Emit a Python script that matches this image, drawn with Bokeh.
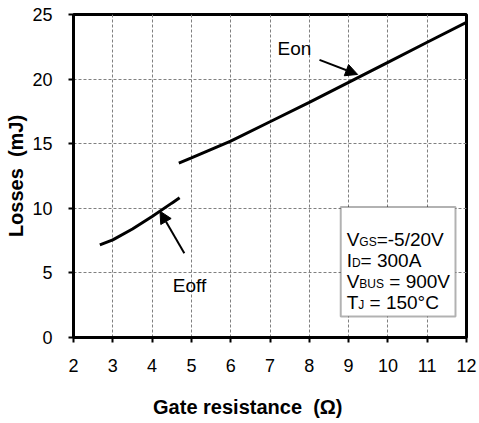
from bokeh.plotting import figure
from bokeh.models import Range1d, Label, Arrow, NormalHead, BoxAnnotation, FixedTicker
from bokeh.embed import file_html
from bokeh.resources import INLINE

# values
eon_x = [4.68, 5, 6, 7, 8, 9, 10, 11, 12]
eon_y = [13.5, 13.9, 15.2, 16.7, 18.2, 19.75, 21.3, 22.85, 24.4]
eoff_x = [2.67, 3, 3.5, 4, 4.5, 4.7]
eoff_y = [7.17, 7.56, 8.4, 9.37, 10.4, 10.81]
x_ticks = list(range(2, 13))
y_ticks = [0, 5, 10, 15, 20, 25]

NBSP = "\u00a0"
x_title = "Gate resistance" + NBSP + NBSP + "(Ω)"
y_title = "Losses" + NBSP + NBSP + "(mJ)"

# test conditions: (text, is_subscript, leading space)
cond_lines = [
    [("V", False, 0), ("GS", True, 0), ("=-5/20V", False, 0)],
    [("I", False, 0), ("D", True, 0), ("= 300A", False, 0)],
    [("V", False, 0), ("BUS", True, 0), ("= 900V", False, 1)],
    [("T", False, 0), ("J", True, 0), ("= 150°C", False, 1)],
]

FONT = "Liberation Sans"
MAIN_SIZE = 19
SUB_SIZE = 12

# Arial / Liberation Sans advance widths (per 1000 em)
ARIAL = {"V": 667, "G": 778, "S": 667, "I": 278, "D": 722,
         "B": 667, "U": 722, "T": 611, "J": 500, " ": 278}


def text_width(s, size):
    return sum(ARIAL[c] for c in s) * size / 1000.0


p = figure(width=479, height=423, output_backend="svg", toolbar_location=None,
           x_range=Range1d(2, 12), y_range=Range1d(0, 25))
p.min_border_left = 73
p.min_border_right = 13
p.min_border_top = 14
p.min_border_bottom = 86

p.outline_line_color = "black"
p.outline_line_width = 3
p.background_fill_color = "white"
p.border_fill_color = "white"

for ax in (p.xaxis, p.yaxis):
    ax.axis_line_width = 3
    ax.axis_line_color = "black"
    ax.major_tick_line_width = 2
    ax.major_tick_out = 5
    ax.major_tick_in = 0
    ax.minor_tick_line_color = None
    ax.major_label_text_font = FONT
    ax.major_label_text_font_size = "18px"
    ax.major_label_text_color = "black"
    ax.axis_label_text_font = FONT
    ax.axis_label_text_font_style = "bold"
    ax.axis_label_text_font_size = "20px"
    ax.axis_label_text_color = "black"
    ax.axis_label_text_line_height = 1.0

p.xaxis.ticker = FixedTicker(ticks=x_ticks)
p.yaxis.ticker = FixedTicker(ticks=y_ticks)
p.xaxis.major_label_standoff = 16
p.yaxis.major_label_standoff = 16

# the original's x title sits left of centre: trailing no-break spaces shift it
p.xaxis.axis_label = x_title + NBSP * 8
p.xaxis.axis_label_standoff = 21
p.yaxis.axis_label = y_title
p.yaxis.axis_label_standoff = 2

p.grid.grid_line_color = "#808080"
p.grid.grid_line_dash = "3 2"
p.grid.grid_line_width = 1

p.line(eon_x, eon_y, line_color="black", line_width=3)
p.line(eoff_x, eoff_y, line_color="black", line_width=3)

# curve annotations
p.add_layout(Label(x=7.62, y=22.4, text="Eon", text_align="center",
                   text_baseline="alphabetic", text_font=FONT,
                   text_font_size=f"{MAIN_SIZE}px", text_color="black"))
p.add_layout(Arrow(end=NormalHead(size=12, fill_color="black", line_color="black"),
                   x_start=8.26, y_start=21.49, x_end=9.23, y_end=20.36,
                   line_width=2, line_color="black"))
p.add_layout(Label(x=4.95, y=4.02, text="Eoff", text_align="center",
                   text_baseline="alphabetic", text_font=FONT,
                   text_font_size=f"{MAIN_SIZE}px", text_color="black"))
p.add_layout(Arrow(end=NormalHead(size=12, fill_color="black", line_color="black"),
                   x_start=4.82, y_start=6.52, x_end=4.2, y_end=9.78,
                   line_width=2, line_color="black"))

# condition box
p.add_layout(BoxAnnotation(left=8.8, right=11.72, bottom=1.63, top=10.1,
                           fill_color="white", fill_alpha=1.0,
                           line_color="black", line_width=2))
y0 = 7.62
step = 21 / 12.92
sub_drop = 3 / 12.92
for i, segs in enumerate(cond_lines):
    xoff = 0.0
    for seg, sub, lead in segs:
        size = SUB_SIZE if sub else MAIN_SIZE
        xoff += lead * text_width(" ", MAIN_SIZE)
        p.add_layout(Label(x=8.95, y=y0 - i * step - (sub_drop if sub else 0),
                           x_offset=xoff, text=seg, text_align="left",
                           text_baseline="alphabetic", text_font=FONT,
                           text_font_size=f"{size}px", text_color="black"))
        if sub or seg in ("V", "I", "T"):
            xoff += text_width(seg, size)

open("out.html", "w").write(file_html(p, INLINE))
